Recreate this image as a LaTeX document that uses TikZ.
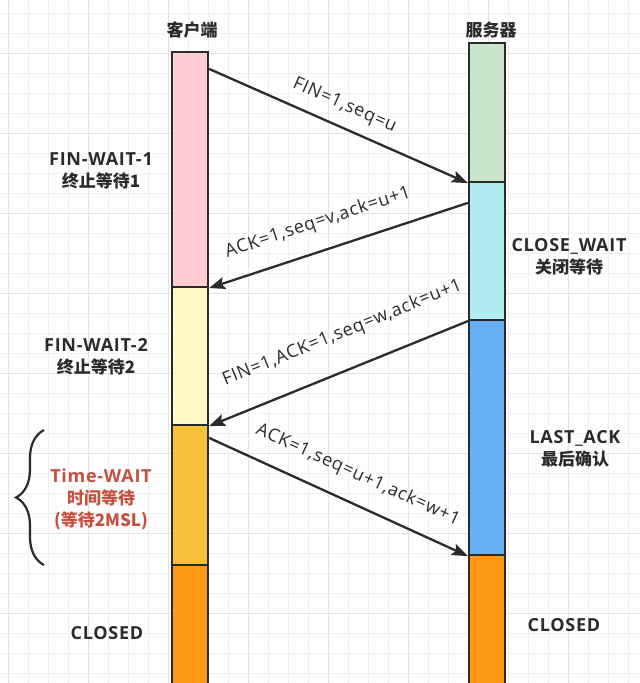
\documentclass[tikz,border=0pt]{standalone}
\usepackage{fontspec}
\setmainfont{Open Sans}
\newfontfamily\cjk{Noto Sans CJK SC}
\newfontfamily\wide{Open Sans}[LetterSpace=4]
\usetikzlibrary{arrows.meta,decorations.pathreplacing}
\definecolor{ink}{HTML}{2B2B2B}
\definecolor{gridminor}{HTML}{F0F0F0}
\definecolor{gridmajor}{HTML}{E3E3E3}
\definecolor{finred}{HTML}{C4503F}
\definecolor{pinkfill}{HTML}{FFCDD2}
\definecolor{yellowfill}{HTML}{FFF9C4}
\definecolor{amberfill}{HTML}{F9C03A}
\definecolor{orangefill}{HTML}{FF9A14}
\definecolor{greenfill}{HTML}{C8E6C9}
\definecolor{cyanfill}{HTML}{B2EBF2}
\definecolor{bluefill}{HTML}{64B0F2}
\begin{document}
\begin{tikzpicture}[x=1pt,y=-1pt,>={Stealth[length=16pt,width=12pt,inset=3pt]},
  seg/.style={draw=ink,line width=2.2pt,minimum width=36pt,inner sep=0pt},
  head/.style={text=ink,font=\fontsize{17}{20}\selectfont\bfseries\cjk},
  state/.style={align=center,text=ink,font=\fontsize{18}{22}\selectfont\wide\bfseries},
  msg/.style={sloped,inner sep=0pt,text=ink,font=\fontsize{18}{20}\selectfont\wide},
  link/.style={->,draw=ink,line width=2.3pt}]
  \useasboundingbox (0,0) rectangle (640,683);
  \fill[white] (0,0) rectangle (640,683);
  % background grid
  \foreach \x in {8,28,...,628} \draw[gridminor,line width=1pt] (\x,0) -- (\x,683);
  \foreach \y in {13,33,...,673} \draw[gridminor,line width=1pt] (0,\y) -- (640,\y);
  \foreach \x in {8,88,...,568} \draw[gridmajor,line width=1pt] (\x,0) -- (\x,683);
  \foreach \y in {53,133,...,613} \draw[gridmajor,line width=1pt] (0,\y) -- (640,\y);

  % client side
  \node[head] (client) at (192,30) {客户端};
  \node[seg,fill=pinkfill,minimum height=235pt] (c1) at (190,169.5) {};
  \node[seg,fill=yellowfill,minimum height=138pt] (c2) at (190,356) {};
  \node[seg,fill=amberfill,minimum height=140pt] (c3) at (190,495) {};
  \node[seg,fill=orangefill,minimum height=135pt] (c4) at (190,632.5) {};

  % server side
  \node[head] (server) at (491,30) {服务器};
  \node[seg,fill=greenfill,minimum height=139pt] (s1) at (487,112.5) {};
  \node[seg,fill=cyanfill,minimum height=138pt] (s2) at (487,251) {};
  \node[seg,fill=bluefill,minimum height=235pt] (s3) at (487,437.5) {};
  \node[seg,fill=orangefill,minimum height=145pt] (s4) at (487,627.5) {};

  % states
  \node[state] (fw1) at (101,171) {FIN-WAIT-1\\{\cjk\fontsize{17}{22}\selectfont 终止等待1}};
  \node[state] (fw2) at (96,357) {FIN-WAIT-2\\{\cjk\fontsize{17}{22}\selectfont 终止等待2}};
  \node[state,text=finred] (tw) at (101,499) {Time-WAIT\\{\cjk\fontsize{17}{22}\selectfont 时间等待}\\{\cjk\fontsize{17}{22}\selectfont (等待2MSL)}};
  \node[state] (cc) at (107,633) {CLOSED};
  \node[state] (cw) at (569,257) {CLOSE\_WAIT\\{\cjk\fontsize{17}{22}\selectfont 关闭等待}};
  \node[state] (la) at (575,449) {LAST\_ACK\\{\cjk\fontsize{17}{22}\selectfont 最后确认}};
  \node[state] (sc) at (564,625) {CLOSED};
  \draw[ink,line width=2.2pt,decorate,decoration={brace,amplitude=28pt}]
    (44,565) -- (44,430);

  % messages
  \draw[link] ([yshift=-18pt]c1.north east) -- (s1.south west)
    node[msg,pos=.49,yshift=21pt] (m1) {FIN=1,seq=u};
  \draw[link] ([yshift=-22pt]s2.north west) -- (c1.south east)
    node[msg,pos=.545,yshift=28pt] (m2) {ACK=1,seq=v,ack=u+1};
  \draw[link] (s2.south west) -- (c2.south east)
    node[msg,pos=.433,yshift=36pt] (m3) {FIN=1,ACK=1,seq=w,ack=u+1};
  \draw[link] ([yshift=-14pt]c3.north east) -- (s3.south west)
    node[msg,pos=.53,yshift=28pt] (m4) {ACK=1,seq=u+1,ack=w+1};
\end{tikzpicture}
\end{document}
